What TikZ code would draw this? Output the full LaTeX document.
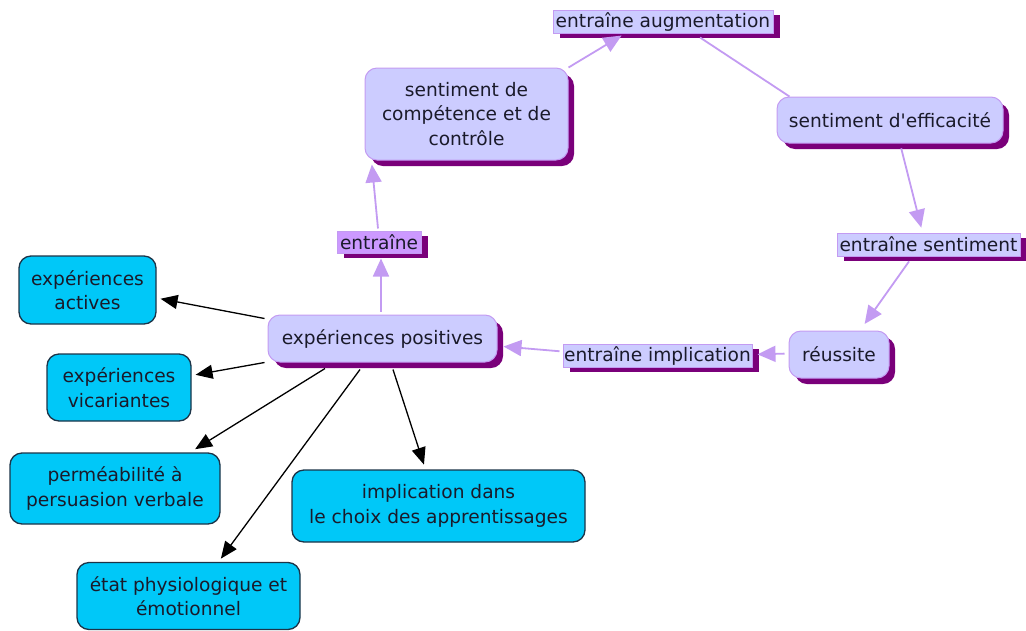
\documentclass[tikz,border=0pt]{standalone}
\usepackage{fontspec}
\setmainfont{DejaVu Sans}[Ligatures=TeXOff]
\usetikzlibrary{arrows.meta,shadows,calc}
\definecolor{lav}{HTML}{CCCCFF}
\definecolor{lilac}{HTML}{C39BF2}
\definecolor{linkfill}{HTML}{CC99FF}
\definecolor{shpurple}{HTML}{7A007A}
\definecolor{cyanbox}{HTML}{00C8F8}
\definecolor{cyanedge}{HTML}{1C3448}
\definecolor{ink}{HTML}{1A1A2A}
\begin{document}
\begin{tikzpicture}[x=1pt,y=-1pt,
  every node/.style={font=\fontsize{18.6}{24.5}\selectfont, text=ink, align=center, inner sep=0pt},
  concept/.style={draw=lilac, line width=1pt, fill=lav, rounded corners=12pt,
    drop shadow={shadow xshift=6pt, shadow yshift=-6pt, opacity=1, fill=shpurple}},
  linkbox/.style={draw=lilac, line width=1pt, fill=lav,
    drop shadow={shadow xshift=7pt, shadow yshift=-5pt, opacity=1, fill=shpurple}},
  leaf/.style={draw=cyanedge, line width=1.3pt, fill=cyanbox, rounded corners=12pt},
  purplearrow/.style={draw=lilac, line width=1.8pt, -{Triangle[length=18pt,width=16pt]}},
  purpleline/.style={draw=lilac, line width=1.8pt},
  blackarrow/.style={draw=black, line width=1.3pt, -{Triangle[length=17pt,width=14pt]}}
]
\useasboundingbox (0,0) rectangle (1026,630);

% purple concept nodes
\node[concept, minimum width=203pt, minimum height=92pt] (comp) at (466.5,114)
  {sentiment de\\compétence et de\\contrôle};
\node[concept, minimum width=226pt, minimum height=46pt] (eff) at (890,120)
  {sentiment d'efficacité};
\node[concept, minimum width=100pt, minimum height=47pt] (reus) at (839,354.5)
  {réussite};
\node[concept, minimum width=229pt, minimum height=47pt] (pos) at (382.5,338.5)
  {expériences positives};

% linking phrases
\node[linkbox, minimum width=220pt, minimum height=23pt] (aug) at (663,21.5)
  {entraîne augmentation};
\node[linkbox, minimum width=183pt, minimum height=23pt] (sent) at (928.5,244.5)
  {entraîne sentiment};
\node[linkbox, minimum width=189pt, minimum height=23pt] (impl) at (657.5,355.5)
  {entraîne implication};
\node[linkbox, fill=linkfill, minimum width=84pt, minimum height=22pt] (entr) at (379,242)
  {entraîne};

% cyan leaves
\node[leaf, minimum width=137pt, minimum height=68pt] (act) at (87.5,290)
  {expériences\\actives};
\node[leaf, minimum width=144pt, minimum height=67pt] (vic) at (119,387.5)
  {expériences\\vicariantes};
\node[leaf, minimum width=210pt, minimum height=71pt] (perm) at (115,488.5)
  {perméabilité à\\persuasion verbale};
\node[leaf, minimum width=293pt, minimum height=72pt] (choix) at (438.5,506)
  {implication dans\\le choix des apprentissages};
\node[leaf, minimum width=223pt, minimum height=67pt] (etat) at (188.5,596)
  {état physiologique et\\émotionnel};

% cycle of purple links
\draw[purplearrow, shorten >=5pt] ($(pos.north)+(-1.5,-3)$) -- ($(entr.south)+(2,0)$);
\draw[purplearrow, shorten >=4pt] ($(entr.north)+(-1,-2)$) -- ($(comp.south west)+(7,0)$);
\draw[purplearrow, shorten >=4pt] (comp.north east) -- ($(aug.south)+(-38,0)$);
\draw[purpleline] ($(aug.south)+(37,4)$) -- ($(eff.north west)+(13,0)$);
\draw[purplearrow, shorten <=5pt, shorten >=5pt] ($(eff.south)+(10,0)$) -- ($(sent.north)+(-6,0)$);
\draw[purplearrow, shorten <=6pt, shorten >=8pt] ($(sent.south)+(-16,0)$) -- ($(reus.north)+(21,0)$);
\draw[purplearrow, shorten <=4pt, shorten >=5pt] ($(reus.west)+(0,-1)$) -- ($(impl.east)+(0,-1)$);
\draw[purplearrow, shorten <=3pt, shorten >=6pt] ($(impl.west)+(0,-4)$) -- ($(pos.east)+(0,7.5)$);

% black links to the sources of experience
\draw[blackarrow, shorten >=4pt] ($(pos.north west)+(-3,4)$) -- ($(act.east)+(0,8)$);
\draw[blackarrow, shorten >=4pt] ($(pos.south west)+(-3,0)$) -- ($(vic.east)+(0,-12)$);
\draw[blackarrow, shorten >=6pt] ($(pos.south)+(-57.5,6)$) -- ($(perm.north)+(75,0)$);
\draw[blackarrow, shorten >=4pt] ($(pos.south)+(-22.5,7)$) -- ($(etat.north)+(30,0)$);
\draw[blackarrow, shorten >=5pt] ($(pos.south)+(10.5,7)$) -- ($(choix.north)+(-13,0)$);
\end{tikzpicture}
\end{document}
